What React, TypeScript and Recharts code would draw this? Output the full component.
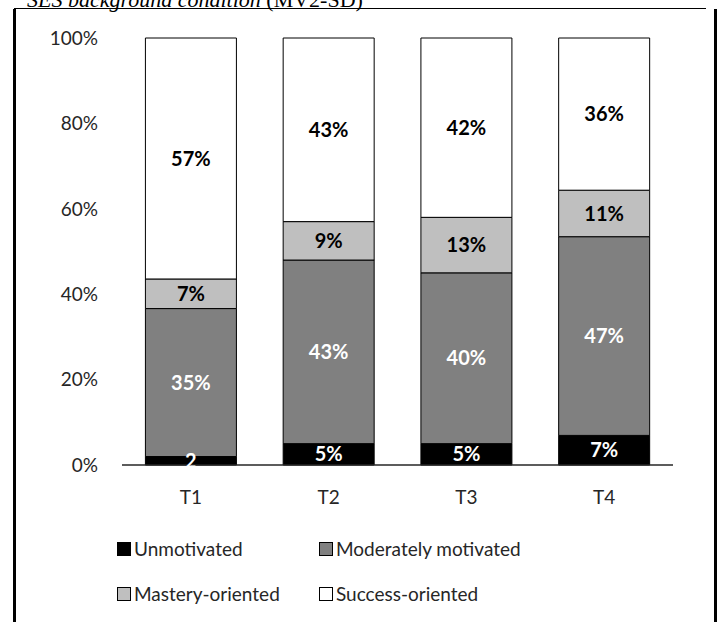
import { BarChart, Bar, XAxis, YAxis, LabelList } from "recharts";

const categories = ["T1", "T2", "T3", "T4"];
const unmotivated = [2, 5, 5, 7];
const moderately = [35, 43, 40, 47];
const mastery = [7, 9, 13, 11];
const success = [57, 43, 42, 36];
const unmotivatedLabels = ["2", "5%", "5%", "7%"];
const yTicks = [0, 0.2, 0.4, 0.6, 0.8, 1];

const data = categories.map((c, i) => ({
  name: c,
  unmotivated: unmotivated[i],
  moderately: moderately[i],
  mastery: mastery[i],
  success: success[i],
  unLabel: unmotivatedLabels[i],
}));

const font = "Lato, 'Open Sans', sans-serif";
const labelStyle = { fontFamily: font, fontSize: 20, fontWeight: 700 };

const legendItems = [
  { name: "Unmotivated", color: "#000000", left: 117, top: 537 },
  { name: "Moderately motivated", color: "#808080", left: 319, top: 537 },
  { name: "Mastery-oriented", color: "#bfbfbf", left: 117, top: 582 },
  { name: "Success-oriented", color: "#ffffff", left: 319, top: 582 },
];

export default function App() {
  return (
    <div style={{ position: "absolute", left: 0, top: 0, width: 721, height: 622, background: "#fff", overflow: "hidden" }}>
      {/* title cell, cut at the top */}
      <div style={{ position: "absolute", left: 27, top: -13, fontFamily: "'Liberation Serif', serif", fontSize: 22, whiteSpace: "nowrap", color: "#000" }}>
        <i>SES background condition</i> (MV2-SD)
      </div>
      <div style={{ position: "absolute", left: 14, top: 8, width: 692, height: 1, background: "#000" }} />
      <div style={{ position: "absolute", left: 13, top: 9, width: 3, height: 613, background: "#000" }} />
      <div style={{ position: "absolute", left: 714, top: 9, width: 3, height: 613, background: "#000" }} />

      <div style={{ position: "absolute", left: 0, top: 0 }}>
        <BarChart
          width={721}
          height={622}
          data={data}
          stackOffset="expand"
          barCategoryGap="17%"
          margin={{ top: 38, right: 48, bottom: 127, left: 0 }}
        >
          <YAxis
            width={122}
            ticks={yTicks}
            domain={[0, 1]}
            axisLine={false}
            tickLine={false}
            tickSize={0}
            tickMargin={24}
            interval={0}
            tickFormatter={(v) => `${Math.round(v * 100)}%`}
            tick={{ fill: "#262626", fontFamily: font, fontSize: 19 }}
          />
          <XAxis
            dataKey="name"
            height={30}
            axisLine={{ stroke: "#262626", strokeWidth: 1.5 }}
            tickLine={false}
            tickSize={0}
            tickMargin={26}
            tick={{ fill: "#262626", fontFamily: font, fontSize: 19 }}
          />
          <Bar dataKey="unmotivated" stackId="a" fill="#000000" stroke="#000" strokeWidth={1} isAnimationActive={false}>
            <LabelList dataKey="unLabel" position="center" fill="#fff" style={labelStyle} />
          </Bar>
          <Bar dataKey="moderately" stackId="a" fill="#808080" stroke="#000" strokeWidth={1} isAnimationActive={false}>
            <LabelList dataKey="moderately" position="center" fill="#fff" formatter={(v: any) => `${v}%`} style={labelStyle} />
          </Bar>
          <Bar dataKey="mastery" stackId="a" fill="#bfbfbf" stroke="#000" strokeWidth={1} isAnimationActive={false}>
            <LabelList dataKey="mastery" position="center" fill="#000" formatter={(v: any) => `${v}%`} style={labelStyle} />
          </Bar>
          <Bar dataKey="success" stackId="a" fill="#ffffff" stroke="#000" strokeWidth={1} isAnimationActive={false}>
            <LabelList dataKey="success" position="center" fill="#000" formatter={(v: any) => `${v}%`} style={labelStyle} />
          </Bar>
        </BarChart>
      </div>

      {legendItems.map((it) => (
        <div key={it.name} style={{ position: "absolute", left: it.left, top: it.top, display: "flex", alignItems: "center", fontFamily: font, fontSize: 19, color: "#262626", whiteSpace: "nowrap" }}>
          <span style={{ display: "inline-block", width: 12, height: 12, background: it.color, border: "1px solid #000", marginRight: 3 }} />
          {it.name}
        </div>
      ))}
    </div>
  );
}
